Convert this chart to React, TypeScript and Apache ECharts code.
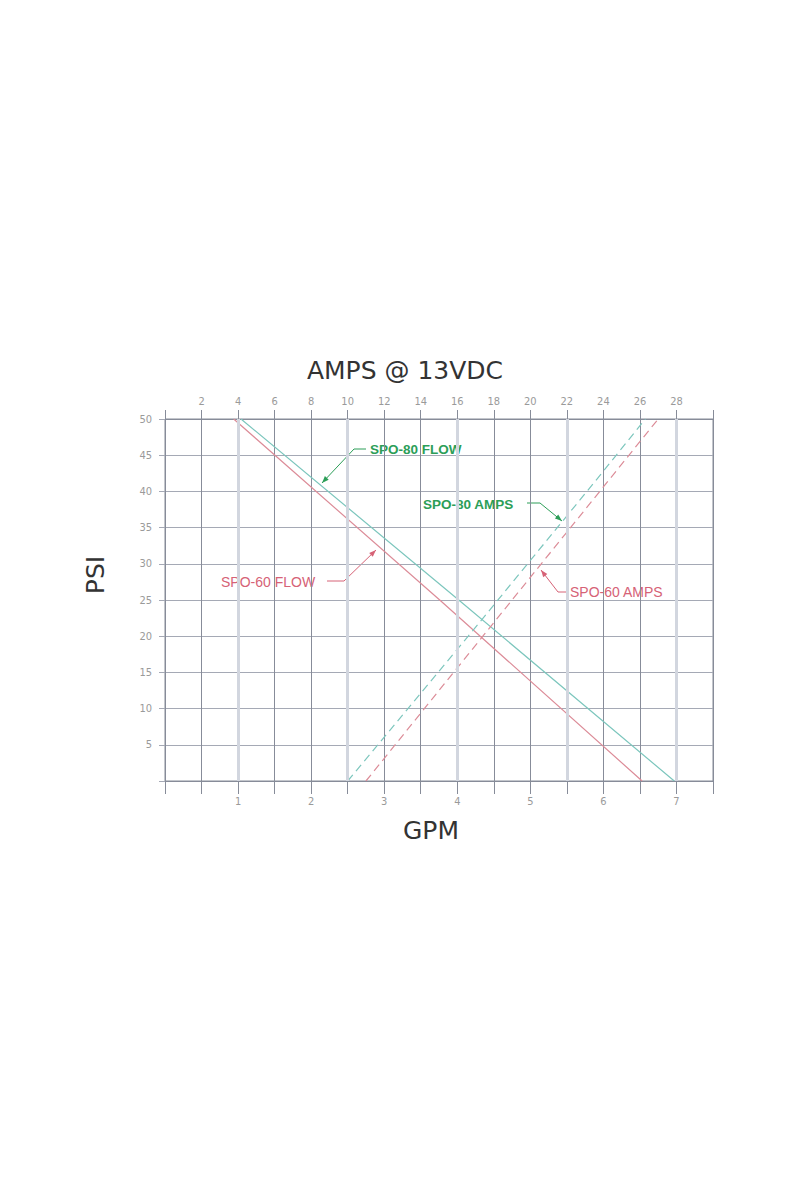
import React, { useEffect, useRef } from "react";
import * as echarts from "echarts";

// ---- data ----
// flow curves: [GPM, PSI]
const SPO80_FLOW: [number, number][] = [[1.04, 50], [4.02, 25], [6.97, 0]];
const SPO60_FLOW: [number, number][] = [[0.94, 50], [3.76, 25], [6.53, 0]];
// amp curves: [AMPS, PSI]
const SPO80_AMPS: [number, number][] = [[10.0, 0], [16.6, 20], [23.1, 40], [26.3, 50]];
const SPO60_AMPS: [number, number][] = [[11.0, 0], [17.4, 20], [23.8, 40], [27.0, 50]];

const GPM_LABELS = [1, 2, 3, 4, 5, 6, 7];
const AMPS_LABELS = [2, 4, 6, 8, 10, 12, 14, 16, 18, 20, 22, 24, 26, 28];
const PSI_LABELS = [5, 10, 15, 20, 25, 30, 35, 40, 45, 50];
const HIGHLIGHT_AMPS = [4, 10, 16, 22, 28];

const TITLE_TOP = "AMPS @ 13VDC";
const TITLE_BOTTOM = "GPM";
const TITLE_LEFT = "PSI";
const LABEL_80_FLOW = "SPO-80 FLOW";
const LABEL_80_AMPS = "SPO-80 AMPS";
const LABEL_60_FLOW = "SPO-60 FLOW";
const LABEL_60_AMPS = "SPO-60 AMPS";

// ---- styles ----
const TEAL = "#7cc6bd";
const RED = "#dc8c98";
const GREEN_TEXT = "#2c9e58";
const RED_TEXT = "#d66276";
const GRID_DARK = "#878c99";
const GRID_H = "#a5a9b5";
const HIGHLIGHT = "#d2d6df";
const TICK_TEXT = "#9a9a9a";
const NARROW = "'Liberation Sans Narrow', 'DejaVu Sans Condensed', sans-serif";

function arrowHead(from: number[], tip: number[], color: string) {
  const dx = tip[0] - from[0];
  const dy = tip[1] - from[1];
  const len = Math.hypot(dx, dy) || 1;
  const ux = dx / len, uy = dy / len;
  const L = 7, W = 2.6;
  const bx = tip[0] - ux * L, by = tip[1] - uy * L;
  return {
    type: "polygon",
    silent: true,
    shape: { points: [tip, [bx - uy * W, by + ux * W], [bx + uy * W, by - ux * W]] },
    style: { fill: color },
  };
}

function leader(points: number[][], color: string) {
  const n = points.length;
  return [
    {
      type: "polyline",
      silent: true,
      shape: { points },
      style: { stroke: color, lineWidth: 1, fill: "none" },
    },
    arrowHead(points[n - 2], points[n - 1], color),
  ];
}

function label(text: string, x: number, y: number, color: string, bold: boolean) {
  return {
    type: "text",
    silent: true,
    x,
    y,
    style: {
      text,
      fill: color,
      fontSize: bold ? 13.5 : 14,
      fontWeight: bold ? "bold" : "normal",
      fontFamily: "'Liberation Sans', Arial, sans-serif",
      align: "left",
      verticalAlign: "middle",
      textAlign: "left",
      textVerticalAlign: "middle",
    },
  };
}

function title(text: string, x: number, y: number, rotation = 0) {
  return {
    type: "text",
    silent: true,
    x,
    y,
    rotation,
    style: {
      text,
      fill: "#333333",
      fontSize: 25,
      fontFamily: "'DejaVu Sans', sans-serif",
      align: "center",
      verticalAlign: "middle",
      textAlign: "center",
      textVerticalAlign: "middle",
    },
  };
}

export default function App() {
  const ref = useRef<HTMLDivElement>(null);

  useEffect(() => {
    document.body.style.margin = "0";
    if (!ref.current) return;
    const chart = echarts.init(ref.current, undefined, { renderer: "svg" });

    const option: any = {
      animation: false,
      backgroundColor: "#ffffff",
      grid: {
        left: 165,
        top: 419,
        width: 548,
        height: 362,
        show: true,
        borderColor: GRID_DARK,
        borderWidth: 1,
        backgroundColor: "transparent",
      },
      xAxis: [
        {
          type: "value",
          position: "bottom",
          min: 0,
          max: 7.5,
          interval: 0.5,
          axisLine: { show: true, lineStyle: { color: GRID_DARK, width: 1 } },
          axisTick: { show: true, length: 13, lineStyle: { color: GRID_DARK } },
          axisLabel: {
            margin: 15,
            color: TICK_TEXT,
            fontSize: 11,
            fontFamily: NARROW,
            formatter: (v: number) => (GPM_LABELS.includes(v) ? String(v) : ""),
          },
          splitLine: { show: false },
        },
        {
          type: "value",
          position: "top",
          min: 0,
          max: 30,
          interval: 2,
          axisLine: { show: true, lineStyle: { color: GRID_DARK, width: 1 } },
          axisTick: { show: true, length: 9, lineStyle: { color: GRID_DARK } },
          axisLabel: {
            margin: 12,
            color: TICK_TEXT,
            fontSize: 11,
            fontFamily: NARROW,
            formatter: (v: number) => (AMPS_LABELS.includes(v) ? String(v) : ""),
          },
          splitLine: { show: true, lineStyle: { color: GRID_DARK, width: 1 } },
        },
      ],
      yAxis: {
        type: "value",
        min: 0,
        max: 50,
        interval: 5,
        axisLine: { show: true, lineStyle: { color: GRID_DARK, width: 1 } },
        axisTick: { show: true, length: 6, lineStyle: { color: GRID_H } },
        axisLabel: {
          margin: 13,
          color: TICK_TEXT,
          fontSize: 11,
          fontFamily: NARROW,
          formatter: (v: number) => (PSI_LABELS.includes(v) ? String(v) : ""),
        },
        splitLine: { show: true, lineStyle: { color: GRID_H, width: 1 } },
      },
      series: [
        {
          name: "highlight",
          type: "line",
          xAxisIndex: 1,
          data: [],
          silent: true,
          z: 1,
          markLine: {
            silent: true,
            symbol: ["none", "none"],
            label: { show: false },
            lineStyle: { color: HIGHLIGHT, width: 3, type: "solid" },
            data: HIGHLIGHT_AMPS.map((a) => ({ xAxis: a })),
          },
        },
        {
          name: LABEL_80_FLOW,
          type: "line",
          xAxisIndex: 0,
          data: SPO80_FLOW,
          showSymbol: false,
          z: 3,
          lineStyle: { color: TEAL, width: 1.2 },
        },
        {
          name: LABEL_60_FLOW,
          type: "line",
          xAxisIndex: 0,
          data: SPO60_FLOW,
          showSymbol: false,
          z: 3,
          lineStyle: { color: RED, width: 1.2 },
        },
        {
          name: LABEL_80_AMPS,
          type: "line",
          xAxisIndex: 1,
          data: SPO80_AMPS,
          showSymbol: false,
          z: 3,
          lineStyle: { color: TEAL, width: 1.2, type: [8, 5] },
        },
        {
          name: LABEL_60_AMPS,
          type: "line",
          xAxisIndex: 1,
          data: SPO60_AMPS,
          showSymbol: false,
          z: 3,
          lineStyle: { color: RED, width: 1.2, type: [8, 5] },
        },
      ],
      graphic: [
        title(TITLE_TOP, 405, 370),
        title(TITLE_BOTTOM, 431, 830),
        title(TITLE_LEFT, 95, 575, Math.PI / 2),
        label(LABEL_80_FLOW, 370, 449, GREEN_TEXT, true),
        ...leader([[366, 449], [354, 449], [322, 483]], GREEN_TEXT),
        label(LABEL_80_AMPS, 423, 504, GREEN_TEXT, true),
        ...leader([[527, 503], [540, 503], [562, 521]], GREEN_TEXT),
        label(LABEL_60_FLOW, 221, 582, RED_TEXT, false),
        ...leader([[327, 581], [344, 581], [376, 550]], RED_TEXT),
        label(LABEL_60_AMPS, 570, 592, RED_TEXT, false),
        ...leader([[566, 592], [558, 592], [541, 570]], RED_TEXT),
      ],
    };

    chart.setOption(option);
    return () => chart.dispose();
  }, []);

  return <div ref={ref} style={{ width: 800, height: 1200 }} />;
}
